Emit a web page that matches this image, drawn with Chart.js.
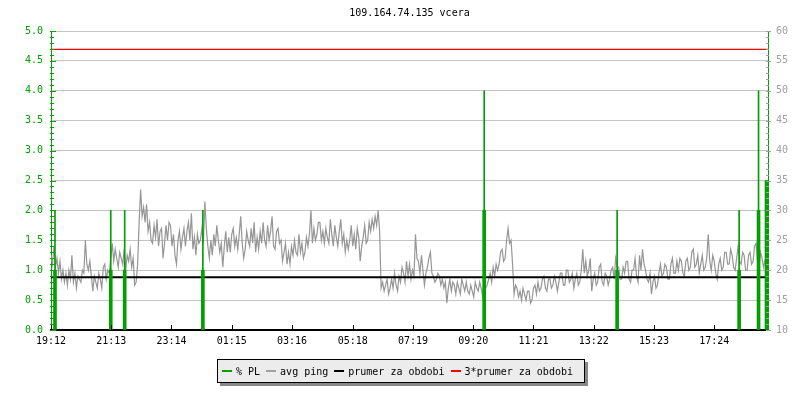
<!DOCTYPE html>
<html>
<head>
<meta charset="utf-8">
<script src="https://cdn.jsdelivr.net/npm/chart.js@4/dist/chart.umd.min.js"></script>
<style>
  html, body { margin: 0; padding: 0; background: #fff; }
  #wrap { position: relative; width: 800px; height: 400px; }
  #legend {
    position: absolute; left: 217px; top: 359px; width: 362px; height: 22px;
    border: 1px solid #000; background: #ececec; box-shadow: 3px 3px 0 #888;
    font: 10px "DejaVu Sans Mono", monospace; color: #000;
    display: flex; align-items: center; padding-left: 4px; box-sizing: content-box;
    white-space: pre;
  }
  #legend .item { display: flex; align-items: center; margin-right: 6px; }
  #legend .swatch { display: inline-block; width: 10px; height: 2px; margin-right: 4px; }
</style>
</head>
<body>
<div id="wrap">
  <canvas id="chart" width="800" height="400"></canvas>
  <div id="legend"></div>
</div>
<script>
// --- data ---
const title = "109.164.74.135 vcera";
const tickMinutes = [0, 121, 242, 363, 484, 606, 727, 848, 969, 1090, 1211, 1332];
const tickLabels = ["19:12", "21:13", "23:14", "01:15", "03:16", "05:18", "07:19", "09:20", "11:21", "13:22", "15:23", "17:24"];

// avg ping [ms], one sample every 3 minutes from 19:12 (20 per hour row)
const pingStep = 3;
const avgPing = [
  22.5, 21, 24, 20.5, 22, 19.5, 21.5, 18.5, 20, 18, 19.5, 17.5, 20, 18.5, 22.5, 18, 19.5, 17, 19, 18.5,
  18, 20, 19.5, 25, 21, 20, 21.5, 19, 16.5, 19, 18, 17, 19.5, 18.5, 17, 20.5, 21, 18.5, 20, 19.5,
  22, 24.5, 21.5, 23.5, 22, 20.5, 23, 22, 21, 23.5, 20, 22.5, 21.5, 23.5, 20.5, 22, 17.5, 18, 21, 28,
  33.5, 29, 30.5, 28, 31, 26.5, 28, 25, 24.5, 27.5, 25.5, 28.5, 24, 26.5, 27, 22, 24.5, 27.5, 25, 28,
  27.5, 24, 26, 22.5, 21, 25, 26.5, 23.5, 25.5, 27, 24, 26.5, 28, 25, 29.5, 23.5, 25.5, 22.5, 26, 24.5,
  25, 27, 24.5, 31.5, 27, 24, 22, 25, 22.5, 26, 24, 27.5, 25, 23, 24.5, 20.5, 24, 26.5, 23, 25.5,
  23, 26, 27, 24, 25.5, 23.5, 26, 29, 24.5, 22, 23.5, 26.5, 25, 24, 27, 24.5, 28, 23, 25.5, 23.5,
  26.5, 24.5, 28, 25, 24, 27.5, 25, 26.5, 29, 24, 23.5, 26.5, 27, 24.5, 25, 21.5, 23, 24.5, 21, 23,
  21, 24, 22.5, 25, 23, 22.5, 26, 23, 24.5, 22, 23, 25.5, 24, 26, 30, 24.5, 27, 25, 26, 28,
  28, 25, 26.5, 24.5, 27, 25.5, 24.5, 28.5, 26, 24, 27.5, 25.5, 24, 26.5, 28.5, 24.5, 26, 23, 25, 23.5,
  25, 27.5, 24, 26, 23.5, 27, 25.5, 21.5, 24, 25.5, 27.5, 24.5, 25, 28, 26.5, 28.5, 27, 29, 27.5, 30,
  26.5, 17, 18, 16.5, 17.5, 18.5, 16, 17, 18.5, 17, 19.5, 17.5, 16.5, 19, 18, 20.5, 19.5, 18, 21.5, 19,
  21, 18.5, 20, 19, 26, 22, 21.5, 19.5, 22.5, 20, 17.5, 19.5, 20.5, 22, 23, 19.5, 19, 18, 18.5, 19.5,
  19, 17.5, 18.5, 17, 18, 14.5, 17, 18.5, 16.5, 18, 17.5, 16, 18, 17, 16, 18.5, 17.5, 16.5, 18, 16.5,
  16, 17.5, 16.5, 15.5, 18, 17, 16.5, 18, 17, 15.5, 18.5, 17, 17.5, 18.5, 19.5, 18, 20.5, 19, 21, 20,
  21, 23, 23.5, 21.5, 22, 25, 27, 24.5, 25, 21, 16, 17.5, 17, 15.5, 16.5, 15, 17, 16, 15, 16.5,
  16.5, 14.5, 15, 17, 17.5, 16, 18, 16.5, 17, 18.5, 19, 17, 16.5, 18.5, 18.5, 17, 17.5, 19, 18, 16.5,
  18, 19.5, 19.5, 17.5, 17.5, 20, 20, 18, 18.5, 19.5, 17, 18.5, 19.5, 17.5, 18, 20, 23.5, 19.5, 21.5, 19,
  20, 22, 16.5, 18.5, 19.5, 17.5, 18, 20.5, 21, 18, 17.5, 19.5, 19, 17.5, 18.5, 20, 20.5, 18.5, 22, 20.5,
  20.5, 18.5, 18.5, 20.5, 19.5, 21.5, 21.5, 18.5, 18, 20, 20, 22, 19, 18, 22.5, 20, 23.5, 21, 20, 18.5,
  18, 19.5, 16, 18, 19, 17, 17.5, 19.5, 21, 19, 19.5, 21, 20.5, 18.5, 18.5, 21, 22, 19.5, 19.5, 21.5,
  20, 22, 21.5, 19.5, 19, 21.5, 22, 20, 20.5, 23, 23.5, 20.5, 21, 22.5, 19.5, 21, 22.5, 20, 20.5, 22,
  26, 21.5, 20, 22.5, 21.5, 19.5, 18.5, 21, 22, 20, 20.5, 23, 23, 21, 21, 23.5, 22.5, 20.5, 20, 22,
  24, 21.5, 21, 23, 22.5, 20, 20, 22.5, 23, 21, 21.5, 24, 24.5, 21.5, 20.5, 23, 22, 20.5, 21.5, 23
];

// packet loss spikes (% PL)
const plMinutes = [8, 120, 148, 305, 870, 1137, 1382, 1421, 1437];
const plPeak = [2, 2, 2, 2, 4, 2, 2, 4, 2.5];
const plAvg = [1, 1, 1, 1, 2, 1, 1, 2, 2.5];

const avgMs = 18.83;
const tripleAvgMs = 56.92;
const spanMinutes = 1440;

const GREEN = "#00a000";
const GRAY = "#a0a0a0";
const FONT = { family: "'DejaVu Sans Mono', monospace", size: 10, weight: "normal" };

// --- inward axis ticks like rrdtool ---
const axisTicks = {
  id: "axisTicks",
  afterDraw(chart) {
    const { ctx, chartArea: a, scales } = chart;
    ctx.save();
    ctx.lineWidth = 1;
    ctx.strokeStyle = GREEN;
    for (let i = 0; i <= 50; i++) {
      const py = Math.round(scales.y.getPixelForValue(i / 10)) + 0.5;
      const len = i % 5 === 0 ? 5 : 3;
      ctx.beginPath();
      ctx.moveTo(a.left - 1, py);
      ctx.lineTo(a.left + len, py);
      ctx.stroke();
    }
    ctx.strokeStyle = GRAY;
    for (let v = 10; v <= 60; v++) {
      const py = Math.round(scales.y1.getPixelForValue(v)) + 0.5;
      const major = v % 5 === 0;
      ctx.beginPath();
      ctx.moveTo(a.right - 2, py);
      ctx.lineTo(a.right + (major ? 3 : 1), py);
      ctx.stroke();
    }
    ctx.strokeStyle = "#000";
    tickMinutes.forEach((m) => {
      const px = Math.round(scales.x.getPixelForValue(m)) + 0.5;
      ctx.beginPath();
      ctx.moveTo(px, a.bottom);
      ctx.lineTo(px, a.bottom - 5);
      ctx.stroke();
    });
    ctx.restore();
  },
};

const pingData = avgPing.map((v, i) => ({ x: i * pingStep, y: v }));
const peakData = plMinutes.map((m, i) => ({ x: m, y: plPeak[i] }));
const avgData = plMinutes.map((m, i) => ({ x: m, y: plAvg[i] }));

new Chart(document.getElementById("chart"), {
  type: "line",
  data: {
    datasets: [
      { type: "bar", label: "% PL", data: avgData, backgroundColor: GREEN, barThickness: 3, yAxisID: "y", order: 1, grouped: false },
      { type: "bar", label: "% PL peak", data: peakData, backgroundColor: GREEN, barThickness: 1, yAxisID: "y", order: 2, grouped: false },
      { label: "prumer za obdobi", data: [{ x: 0, y: avgMs }, { x: spanMinutes, y: avgMs }], borderColor: "#000", borderWidth: 2, pointRadius: 0, yAxisID: "y1", order: 3 },
      { label: "3*prumer za obdobi", data: [{ x: 0, y: tripleAvgMs }, { x: spanMinutes, y: tripleAvgMs }], borderColor: "#ff0000", borderWidth: 1.2, pointRadius: 0, yAxisID: "y1", order: 4 },
      { label: "avg ping", data: pingData, borderColor: "#969696", borderWidth: 1.2, pointRadius: 0, tension: 0, yAxisID: "y1", order: 5 },
    ],
  },
  options: {
    responsive: false,
    animation: false,
    layout: { padding: 0 },
    plugins: {
      legend: { display: false },
      tooltip: { enabled: false },
      title: {
        display: true,
        text: title,
        fullSize: false,
        color: "#000",
        font: FONT,
        padding: { top: 7, bottom: 12 },
      },
    },
    scales: {
      x: {
        type: "linear",
        min: 0,
        max: spanMinutes,
        offset: false,
        grid: { display: false, drawTicks: false },
        border: { color: "#000", width: 2 },
        afterBuildTicks: (scale) => { scale.ticks = tickMinutes.map((v) => ({ value: v })); },
        afterFit: (scale) => { scale.height = 70; },
        ticks: {
          color: "#000",
          font: FONT,
          padding: 5,
          maxRotation: 0,
          autoSkip: false,
          callback: (v, i) => tickLabels[i],
        },
      },
      y: {
        position: "left",
        min: 0,
        max: 5,
        grid: { color: "#c4c4c4", drawTicks: false },
        border: { color: GREEN, width: 1 },
        afterFit: (scale) => { scale.width = 51; },
        ticks: { stepSize: 0.5, color: GREEN, font: FONT, padding: 8, callback: (v) => v.toFixed(1) },
      },
      y1: {
        position: "right",
        min: 10,
        max: 60,
        grid: { drawOnChartArea: false, drawTicks: false },
        border: { color: GREEN, width: 1 },
        afterFit: (scale) => { scale.width = 32; },
        ticks: { stepSize: 5, color: GRAY, font: FONT, padding: 8 },
      },
    },
  },
  plugins: [axisTicks],
});

// --- legend ---
const legendItems = [
  ["% PL", GREEN],
  ["avg ping", GRAY],
  ["prumer za obdobi", "#000"],
  ["3*prumer za obdobi", "#ff0000"],
];
const legend = document.getElementById("legend");
legendItems.forEach(([text, color]) => {
  const item = document.createElement("span");
  item.className = "item";
  const sw = document.createElement("span");
  sw.className = "swatch";
  sw.style.background = color;
  item.appendChild(sw);
  item.appendChild(document.createTextNode(text));
  legend.appendChild(item);
});
</script>
</body>
</html>
